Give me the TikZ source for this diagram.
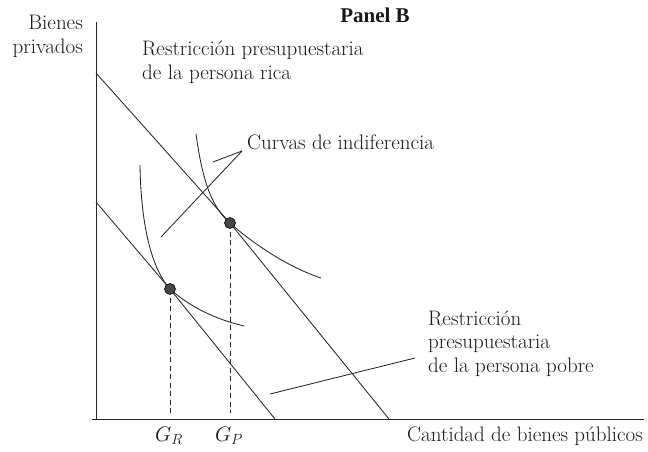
\documentclass[tikz,border=0pt]{standalone}
\usepackage{fix-cm}
\usepackage{fontspec}
\newfontfamily\panelfont{Liberation Serif}
\begin{document}
\begin{tikzpicture}[x=1pt,y=-1pt,
  ln/.style={line width=0.85pt, draw=black!85},
  guide/.style={ln, dash pattern=on 5pt off 3.5pt},
  lbl/.style={font=\fontsize{21}{23.5}\selectfont, inner sep=0pt, align=left, text=black!90},
  dotnode/.style={circle, fill=black!72, draw=black, line width=0.6pt, minimum size=11pt, inner sep=0pt}]
\useasboundingbox (0,0) rectangle (648,451);
% axes
\coordinate (ytop) at (96,22);
\coordinate (ybot) at (96,419);
\coordinate (xstart) at (92,419);
\coordinate (xend) at (644,419);
\draw[ln] (ytop) -- (ybot);
\draw[ln] (xstart) -- (xend);
% budget lines
\coordinate (r0) at (96,73);
\coordinate (r1) at (389,419);
\coordinate (p0) at (96,202);
\coordinate (p1) at (275,419);
\coordinate (Pc) at (230,223);
\coordinate (Rc) at (170,289);
\draw[ln] (r0) -- (Pc) -- (r1);
\draw[ln] (p0) -- (Rc) -- (p1);
% indifference curves
\coordinate (i1a) at (196,134);
\coordinate (i1b) at (321,278);
\coordinate (i2a) at (140,165);
\coordinate (i2b) at (244,326);
\draw[ln] (i1a) .. controls (203,185) and (213,208) .. (Pc) .. controls (250,241) and (285,266) .. (i1b);
\draw[ln] (i2a) .. controls (141,230) and (153,270) .. (Rc) .. controls (190,307) and (215,319) .. (i2b);
% dashed guides
\coordinate (GPb) at (230,413);
\coordinate (GRb) at (170,413);
\draw[guide] (Pc) -- (GPb);
\draw[guide] (Rc) -- (GRb);
% dots
\node[dotnode] (P) at (Pc) {};
\node[dotnode] (R) at (Rc) {};
% labels
\node[font=\panelfont\bfseries\fontsize{21}{24}\selectfont, inner sep=0pt, anchor=base, text=black!90] (panel) at (375,22) {Panel B};
\node[lbl, align=right, anchor=base east] (yl) at (83,53) {Bienes\\privados};
\node[lbl, anchor=base west] (rich) at (142,79) {Restricción presupuestaria\\de la persona rica};
\node[lbl, anchor=base west] (curv) at (247,149) {Curvas de indiferencia};
\node[lbl, anchor=base west] (poor) at (428,372) {Restricción\\presupuestaria\\de la persona pobre};
\node[lbl, anchor=base west] (xl) at (407,441) {Cantidad de bienes públicos};
\node[lbl, anchor=base] (GR) at (169,441) {$G_R$};
\node[lbl, anchor=base] (GP) at (229,441) {$G_P$};
% pointers
\coordinate (cv) at (242,151);
\coordinate (cv1) at (213,162);
\coordinate (cv2) at (161,237);
\draw[ln] (cv) -- (cv1);
\draw[ln] (cv) -- (cv2);
\coordinate (pp0) at (415,358);
\coordinate (pp1) at (270,394);
\draw[ln] (pp0) -- (pp1);
\end{tikzpicture}
\end{document}
